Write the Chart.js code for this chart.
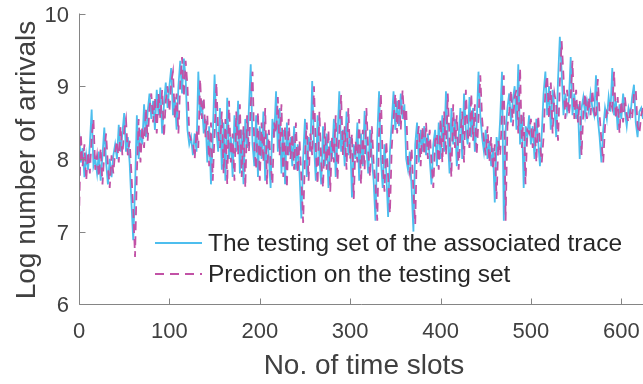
<!DOCTYPE html>
<html><head><meta charset="utf-8">
<script src="https://cdn.jsdelivr.net/npm/chart.js@4.4.1/dist/chart.umd.min.js"></script>
<style>html,body{margin:0;padding:0;background:#fff;}#wrap{width:643px;height:384px;}</style>
</head><body><div id="wrap"><canvas id="c" width="643" height="384"></canvas></div>
<script>
// time slot spacing between the read samples
const slotStep = 2;
const xTickValues = [0, 100, 200, 300, 400, 500, 600];
const yTickValues = [6, 7, 8, 9, 10];
const seriesNames = ["The testing set of the associated trace", "Prediction on the testing set"];
const axisTitles = { x: "No. of time slots", y: "Log number of arrivals" };

const actualTrace = [
8.40,7.95,8.15,7.75,8.05,7.85,8.20,8.68,7.90,8.00,
7.80,8.10,7.70,8.05,8.43,7.95,7.65,8.00,7.75,8.05,
8.20,8.00,8.47,8.10,8.35,8.63,8.10,8.30,7.95,7.40,
6.88,7.60,8.60,8.00,8.40,8.20,8.75,8.30,8.65,8.90,
8.55,8.80,8.40,8.95,8.60,8.98,8.35,8.75,9.05,8.70,
9.00,9.25,8.60,8.85,8.40,9.00,9.35,8.90,9.38,9.10,
8.40,8.20,8.30,8.05,8.35,8.10,9.20,8.60,8.80,8.35,
8.55,7.95,8.45,7.65,8.30,9.16,8.40,8.10,8.70,7.85,
8.50,7.70,8.84,8.00,8.30,7.75,8.60,8.10,8.80,7.80,
8.40,7.65,8.55,8.15,8.70,9.30,8.20,7.90,8.60,7.75,
8.45,8.00,8.65,7.70,8.35,8.05,7.60,8.55,8.30,8.93,
8.10,8.70,7.80,8.40,7.65,8.50,8.05,8.30,7.90,8.45,
7.85,8.20,7.80,7.18,8.00,8.55,7.75,8.30,8.10,9.07,
8.20,7.70,8.60,8.00,7.65,8.45,7.90,8.35,7.60,8.25,
8.00,8.55,7.75,8.30,8.93,8.10,8.40,7.90,8.65,8.05,
8.30,7.47,8.20,8.00,8.50,7.70,8.35,7.90,8.66,8.15,
7.80,8.40,8.00,7.70,7.15,8.30,8.93,8.00,7.60,8.20,
7.80,7.20,8.10,8.50,8.93,8.40,8.80,8.45,8.90,8.55,
8.75,8.00,7.85,8.10,7.60,7.00,8.20,8.50,7.95,8.40,
8.10,8.45,8.05,8.35,8.00,7.65,8.20,8.40,7.90,8.50,
8.00,8.60,8.10,8.93,8.30,7.80,8.70,8.20,8.55,7.90,
8.30,8.70,8.00,8.90,8.40,8.20,8.85,8.30,8.70,8.10,
8.50,9.20,8.60,8.30,8.10,8.40,8.00,8.25,7.90,8.15,
7.40,8.30,8.10,8.55,9.20,7.15,8.40,8.70,8.90,8.50,
8.80,9.00,8.40,9.30,8.20,8.60,7.60,8.45,8.30,8.60,
8.20,8.45,8.00,8.55,8.25,7.90,8.35,8.90,9.20,8.60,
9.00,8.40,8.95,8.70,8.30,9.10,9.68,9.20,8.60,8.90,
8.65,8.80,9.40,8.60,8.90,8.55,8.75,8.00,8.70,8.85,
8.60,8.80,8.65,8.90,8.70,8.60,9.15,8.55,8.30,7.95,
8.40,8.70,8.55,8.85,8.65,9.25,8.60,8.80,8.40,8.75,
8.55,8.90,8.65,8.45,8.70,8.60,8.85,9.02,8.50,8.30,
8.65,8.70,8.55
];

const predictedTrace = [
7.15,8.35,7.90,8.20,7.70,8.10,7.80,8.30,8.55,7.85,
8.05,7.75,8.15,7.65,8.10,8.35,7.90,7.60,8.05,7.80,
8.10,8.25,7.95,8.45,8.05,8.40,8.55,8.05,8.25,7.80,
7.30,6.65,7.80,8.55,7.95,8.45,8.15,8.70,8.25,8.70,
8.90,8.50,8.85,8.35,8.90,8.55,8.95,8.30,8.80,9.00,
8.65,9.05,9.20,8.55,8.90,8.35,9.05,9.40,8.85,9.35,
9.00,8.35,8.25,8.25,8.00,8.40,8.15,9.10,8.55,8.85,
8.30,8.60,7.90,8.50,7.70,8.35,9.05,8.35,8.15,8.65,
7.80,8.55,7.65,8.80,7.95,8.35,7.70,8.65,8.05,8.75,
7.75,8.45,7.60,8.60,8.10,8.75,9.20,8.15,7.85,8.65,
7.70,8.50,7.95,8.70,7.65,8.40,7.95,7.65,8.50,8.35,
8.85,8.05,8.75,7.75,8.45,7.60,8.55,8.00,8.35,7.85,
8.50,7.80,8.25,7.75,7.12,8.05,8.50,7.70,8.35,8.05,
9.00,8.15,7.65,8.65,7.95,7.60,8.50,7.85,8.40,7.55,
8.30,7.95,8.60,7.70,8.35,8.88,8.05,8.45,7.85,8.70,
8.00,8.35,7.45,8.25,7.95,8.55,7.65,8.40,7.85,8.70,
8.10,7.75,8.45,7.95,7.65,7.15,8.35,8.90,7.95,7.55,
8.25,7.75,7.25,8.15,8.55,8.90,8.35,8.85,8.40,8.95,
8.50,8.70,7.95,7.80,8.15,7.55,7.10,8.25,8.45,7.90,
8.45,8.05,8.50,8.00,8.40,7.95,7.60,8.25,8.35,7.85,
8.55,7.95,8.65,8.05,8.90,8.25,7.75,8.75,8.15,8.60,
7.85,8.35,8.65,7.95,8.95,8.35,8.15,8.90,8.25,8.75,
8.05,8.55,9.15,8.55,8.25,8.05,8.45,7.95,8.30,7.85,
8.20,7.45,8.25,8.05,8.60,9.15,7.15,8.45,8.65,8.95,
8.45,8.85,8.95,8.35,9.25,8.15,8.65,7.65,8.40,8.35,
8.55,8.15,8.50,7.95,8.60,8.20,7.95,8.30,8.95,9.15,
8.55,9.05,8.35,8.90,8.75,8.25,9.05,9.62,9.15,8.55,
8.95,8.60,8.85,9.35,8.55,8.95,8.50,8.80,8.05,8.65,
8.90,8.55,8.85,8.60,8.95,8.65,8.55,9.10,8.60,8.25,
7.95,8.45,8.65,8.60,8.80,8.70,9.20,8.55,8.85,8.35,
8.80,8.50,8.85,8.60,8.50,8.65,8.55,8.90,8.95,8.45,
8.35,8.60,8.70
];

const xMax = 624;
const CYAN = '#4DBEEE';
const MAGENTA = '#C252A6';
const AXIS = '#858585';
const TXT = '#404040';
const FONT = '"Liberation Sans", Arial, Helvetica, sans-serif';

const toPoints = arr => arr.map((v, i) => ({ x: i * slotStep, y: v }));

const decor = {
  id: 'decor',
  afterDraw(chart) {
    const ctx = chart.ctx, a = chart.chartArea;
    const xs = chart.scales.x, ys = chart.scales.y;
    ctx.save();
    ctx.strokeStyle = AXIS; ctx.lineWidth = 1;
    ctx.beginPath();
    const L = Math.round(a.left) + 0.5, B = Math.round(a.bottom) + 0.5;
    ctx.moveTo(L, a.top); ctx.lineTo(L, B); ctx.lineTo(a.right, B);
    yTickValues.forEach(v => { const y = Math.round(ys.getPixelForValue(v)) + 0.5; ctx.moveTo(L, y); ctx.lineTo(L + 6, y); });
    xTickValues.forEach(v => { const x = Math.round(xs.getPixelForValue(v)) + 0.5; ctx.moveTo(x, B); ctx.lineTo(x, B - 6); });
    ctx.stroke();
    // legend
    ctx.lineWidth = 1.8;
    ctx.strokeStyle = CYAN; ctx.setLineDash([]);
    ctx.beginPath(); ctx.moveTo(155, 243); ctx.lineTo(202, 243); ctx.stroke();
    ctx.strokeStyle = MAGENTA; ctx.setLineDash([9, 6]);
    ctx.beginPath(); ctx.moveTo(155, 274); ctx.lineTo(202, 274); ctx.stroke();
    ctx.setLineDash([]);
    ctx.fillStyle = '#262626';
    ctx.font = '24.5px ' + FONT; ctx.textBaseline = 'middle'; ctx.textAlign = 'left';
    ctx.fillText(seriesNames[0], 208, 244);
    ctx.fillText(seriesNames[1], 208, 275);
    // axis titles
    ctx.fillStyle = TXT;
    ctx.font = '28px ' + FONT; ctx.textAlign = 'center';
    ctx.fillText(axisTitles.x, 364, 366);
    ctx.translate(27, 160); ctx.rotate(-Math.PI / 2);
    ctx.fillText(axisTitles.y, 0, 0);
    ctx.restore();
  }
};

new Chart(document.getElementById('c'), {
  type: 'line',
  data: {
    datasets: [
      { label: seriesNames[1], data: toPoints(predictedTrace), borderColor: MAGENTA, borderWidth: 1.8, borderDash: [9, 6], pointRadius: 0, tension: 0, fill: false, order: 0 },
      { label: seriesNames[0], data: toPoints(actualTrace), borderColor: CYAN, borderWidth: 1.8, pointRadius: 0, tension: 0, fill: false, order: 1 }
    ]
  },
  options: {
    responsive: false, animation: false, devicePixelRatio: 1,
    layout: { padding: { left: 0, right: 0, top: 13.5, bottom: 0 } },
    plugins: { legend: { display: false }, tooltip: { enabled: false } },
    scales: {
      x: {
        type: 'linear', min: 0, max: xMax,
        grid: { display: false, drawTicks: false },
        border: { display: false },
        ticks: { stepSize: 100, includeBounds: false, color: TXT, font: { family: FONT, size: 22 }, padding: 14.5, maxRotation: 0 },
        afterFit(s) { s.height = 79.7; s.paddingLeft = 0; s.paddingRight = 0; }
      },
      y: {
        min: 6, max: 10,
        grid: { display: false, drawTicks: false },
        border: { display: false },
        ticks: { stepSize: 1, includeBounds: false, color: TXT, font: { family: FONT, size: 22 }, padding: 10, labelOffset: 2 },
        afterFit(s) { s.width = 79; s.paddingTop = 0; s.paddingBottom = 0; }
      }
    }
  },
  plugins: [decor]
});
</script></body></html>
